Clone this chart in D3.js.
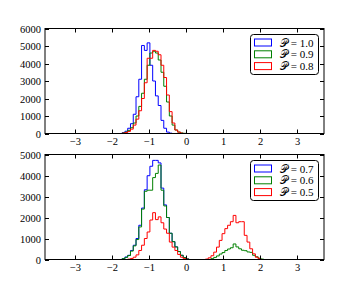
<!DOCTYPE html>
<html>
<head>
<meta charset="utf-8">
<script src="https://cdn.jsdelivr.net/npm/d3@7"></script>
<style>
	body { margin: 0; background: #fff; }
	svg { display: block; }
	text { font-family: "Liberation Serif", "DejaVu Serif", serif; fill: #000; }
</style>
</head>
<body>
<svg id="chart" width="360" height="288"></svg>
<script>

// bins: width 0.075, first edge at -1.725
var binStart = -1.725,
	binWidth = 0.075;

var xTicks = [-3, -2, -1, 0, 1, 2, 3],
	topYTicks = [0, 1000, 2000, 3000, 4000, 5000, 6000],
	bottomYTicks = [0, 1000, 2000, 3000, 4000, 5000];

var topLabels = ["1.0", "0.9", "0.8"],
	bottomLabels = ["0.7", "0.6", "0.5"],
	colors = ["#0000ff", "#008000", "#ff0000"];

// counts per bin
var top_p10 = [50, 130, 300, 560, 1100, 2100, 3100, 5030, 4750, 5180, 3900, 3000, 2150, 1600, 750, 300, 80, 20];
var top_p09 = [30, 80, 180, 330, 600, 1000, 1550, 2300, 3100, 3900, 4600, 4700, 4600, 4200, 3500, 2700, 1800, 1000, 480, 200, 80, 30, 10];
var top_p08 = [20, 50, 120, 250, 480, 820, 1300, 2000, 2900, 4300, 4300, 4750, 4700, 4500, 3900, 3200, 2200, 1250, 600, 200, 80, 20];

var bottom_p07 = [40, 120, 200, 430, 680, 1000, 1630, 2450, 3320, 3990, 4440, 4720, 4720, 4600, 3400, 2600, 2000, 1250, 850, 600, 380, 200, 90, 30];
var bottom_p06 = [40, 100, 190, 400, 650, 950, 1550, 2400, 3250, 3300, 3300, 3900, 4100, 4500, 3300, 2550, 2000, 1250, 850, 600, 380, 200, 90, 30,
	0, 0, 0, 0, 0, 0, 0, 0, 40, 100, 170, 260, 330, 430, 500, 560, 740, 600, 510, 440, 420, 360, 340, 200, 130, 60, 20];
var bottom_p05 = [0, 0, 20, 50, 110, 220, 430, 680, 1000, 1310, 1880, 2230, 1900, 2030, 1750, 1450, 1250, 830, 590, 430, 240, 110, 40, 10,
	0, 0, 0, 0, 0, 0, 20, 80, 180, 350, 590, 910, 1230, 1470, 1630, 1800, 2100, 1750, 1800, 1800, 1150, 830, 510, 270, 110, 40];

// full range of bins for each series (zero outside the counts)
var topRanges = [[-2.5, 2.0], [-2.6, 2.2], [-2.8, 2.3]],
	bottomRanges = [[-2.6, 2.1], [-2.7, 2.6], [-3.81, 3.73]];

var svg = d3.select("#chart");

var x = d3.scaleLinear()
	.domain([-3.81, 3.73])
	.range([45, 324]);

draw_panel(28.5, 133.5, [0, 6000], topYTicks, [top_p10, top_p09, top_p08], topRanges, topLabels);
draw_panel(154.5, 259.5, [0, 5000], bottomYTicks, [bottom_p07, bottom_p06, bottom_p05], bottomRanges, bottomLabels);

function draw_panel(y0, y1, ydomain, yticks, series, ranges, labels) {
	var y = d3.scaleLinear().domain(ydomain).range([y1, y0]);
	var g = svg.append("g");

	var line = d3.line()
		.x(function(d) { return x(d[0]); })
		.y(function(d) { return y(d[1]); });

	series.forEach(function(counts, i) {
		var pts = [[ranges[i][0], 0], [binStart, 0]];
		counts.forEach(function(c, k) {
			var a = binStart + k * binWidth;
			pts.push([a, c]);
			pts.push([a + binWidth, c]);
		});
		pts.push([binStart + counts.length * binWidth, 0]);
		pts.push([ranges[i][1], 0]);
		g.append("path")
			.attr("d", line(pts))
			.attr("fill", "none")
			.attr("stroke", colors[i])
			.attr("stroke-width", 1);
	});

	// ticks inside on all four sides
	var x0 = x.range()[0], x1 = x.range()[1];
	xTicks.forEach(function(t) {
		var xx = Math.round(x(t)) + 0.5;
		g.append("line").attr("x1", xx).attr("x2", xx).attr("y1", y1).attr("y2", y1 - 4).attr("stroke", "#000");
		g.append("line").attr("x1", xx).attr("x2", xx).attr("y1", y0).attr("y2", y0 + 4).attr("stroke", "#000");
		g.append("text")
			.attr("x", xx)
			.attr("y", y1 + 11)
			.attr("text-anchor", "middle")
			.attr("font-size", "10.5px")
			.text(t < 0 ? "\u2212" + Math.abs(t) : t);
	});
	yticks.forEach(function(t) {
		var yy = Math.round(y(t)) + 0.5;
		g.append("line").attr("x1", x0).attr("x2", x0 + 4).attr("y1", yy).attr("y2", yy).attr("stroke", "#000");
		g.append("line").attr("x1", x1).attr("x2", x1 - 4).attr("y1", yy).attr("y2", yy).attr("stroke", "#000");
		g.append("text")
			.attr("x", x0 - 4)
			.attr("y", yy + 3.5)
			.attr("text-anchor", "end")
			.attr("font-size", "10.5px")
			.text(t);
	});

	g.append("rect")
		.attr("x", x0)
		.attr("y", y0)
		.attr("width", x1 - x0)
		.attr("height", y1 - y0)
		.attr("fill", "none")
		.attr("stroke", "#000")
		.attr("stroke-width", 1);

	// legend
	var lg = g.append("g").attr("transform", "translate(250," + (y0 + 5.5) + ")");
	lg.append("rect")
		.attr("x", 0.5).attr("y", 0.5)
		.attr("width", 68).attr("height", 40)
		.attr("rx", 3)
		.attr("fill", "#fff")
		.attr("stroke", "#000");
	labels.forEach(function(lab, i) {
		var cy = 8.5 + i * 11.8;
		lg.append("rect")
			.attr("x", 4.5).attr("y", cy - 3.5)
			.attr("width", 17).attr("height", 7)
			.attr("fill", "none")
			.attr("stroke", colors[i]);
		lg.append("text")
			.attr("x", 30)
			.attr("y", cy + 4)
			.attr("font-size", "11px")
			.text("\uD835\uDCAB = " + lab);
	});
}

</script>
</body>
</html>
